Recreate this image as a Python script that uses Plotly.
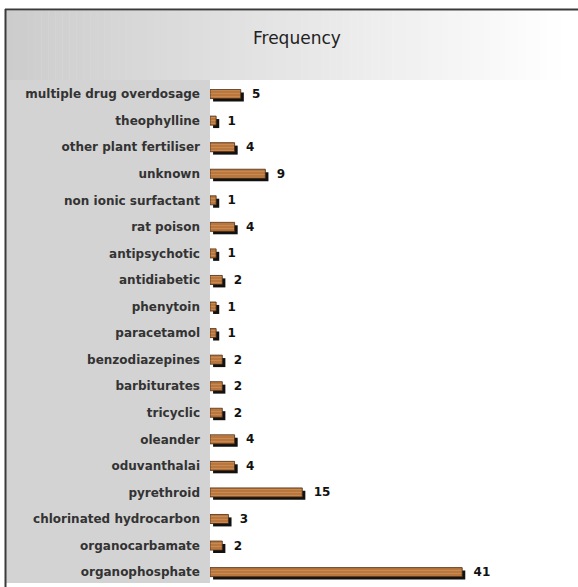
import plotly.graph_objects as go

# Poisoning agents and number of cases (top to bottom)
agents = [
    "multiple drug overdosage", "theophylline", "other plant fertiliser",
    "unknown", "non ionic surfactant", "rat poison", "antipsychotic",
    "antidiabetic", "phenytoin", "paracetamol", "benzodiazepines",
    "barbiturates", "tricyclic", "oleander", "oduvanthalai", "pyrethroid",
    "chlorinated hydrocarbon", "organocarbamate", "organophosphate",
]
cases = [5, 1, 4, 9, 1, 4, 1, 2, 1, 1, 2, 2, 2, 4, 4, 15, 3, 2, 41]

title_text = "Frequency"

W, H = 578, 587


def px_x(p):
    return p / W


def px_y(p):
    return 1 - p / H


BAR_W = 0.34
SHADOW_DX = 0.5
SHADOW_DY = 0.11

fig = go.Figure()

# drop shadow behind each bar
fig.add_trace(go.Bar(
    x=cases, y=agents, orientation="h",
    base=SHADOW_DX, width=BAR_W, offset=-BAR_W / 2 + SHADOW_DY,
    marker=dict(color="#111111", line=dict(width=0)),
    hoverinfo="skip", showlegend=False,
))

# wood-grain bars with value labels
fig.add_trace(go.Bar(
    x=cases, y=agents, orientation="h",
    width=BAR_W, offset=-BAR_W / 2,
    marker=dict(
        color="#b9773d",
        line=dict(color="#4a2a10", width=0.8),
        pattern=dict(shape="-", fgcolor="#c98c55", bgcolor="#b9773d",
                     size=3, solidity=0.3, fillmode="replace"),
    ),
    texttemplate="\u00a0\u00a0%{x}", textposition="outside",
    constraintext="none", cliponaxis=False,
    textfont=dict(family="DejaVu Sans", size=12, color="#111111", weight="bold"),
    showlegend=False,
))

shapes = []
# title band: horizontal grey-to-white gradient
x0, x1, y0, y1 = 6, 568, 11, 80
n = 80
for i in range(n):
    t = i / (n - 1)
    c = int(round(204 + (255 - 204) * t))
    xa = x0 + (x1 - x0) * i / n
    xb = x0 + (x1 - x0) * (i + 1) / n + 0.5
    shapes.append(dict(
        type="rect", xref="paper", yref="paper", layer="below",
        x0=px_x(xa), x1=px_x(xb), y0=px_y(y1), y1=px_y(y0),
        fillcolor=f"rgb({c},{c},{c})", line=dict(width=0),
    ))
# grey label panel
shapes.append(dict(
    type="rect", xref="paper", yref="paper", layer="below",
    x0=px_x(6), x1=px_x(210), y0=px_y(583), y1=px_y(80),
    fillcolor="#d3d3d3", line=dict(width=0),
))
# frame lines
shapes.append(dict(
    type="line", xref="paper", yref="paper",
    x0=px_x(5), x1=px_x(578), y0=px_y(9.5), y1=px_y(9.5),
    line=dict(color="#3a3a3a", width=2),
))
shapes.append(dict(
    type="line", xref="paper", yref="paper",
    x0=px_x(5.5), x1=px_x(5.5), y0=px_y(9), y1=px_y(587),
    line=dict(color="#3a3a3a", width=2),
))

fig.update_layout(
    width=W, height=H,
    margin=dict(l=0, r=0, t=0, b=0),
    paper_bgcolor="white",
    plot_bgcolor="rgba(0,0,0,0)",
    barmode="overlay",
    showlegend=False,
    shapes=shapes,
    annotations=[dict(
        text=title_text, xref="paper", yref="paper",
        x=px_x(297), y=px_y(38), xanchor="center", yanchor="middle",
        showarrow=False,
        font=dict(family="DejaVu Sans", size=17, color="#222222"),
    )],
    xaxis=dict(
        domain=[px_x(210), px_x(568)],
        range=[0, 58.2],
        showgrid=False, zeroline=False, showline=False,
        showticklabels=False, ticks="",
    ),
    yaxis=dict(
        domain=[px_y(583), px_y(80)],
        type="category",
        categoryorder="array", categoryarray=agents,
        range=[18.41, -0.53],
        showgrid=False, zeroline=False, showline=False,
        ticks="", ticklabelstandoff=9,
        tickfont=dict(family="DejaVu Sans", size=12, color="#333333", weight="bold"),
    ),
)

fig.write_html("out.html")
